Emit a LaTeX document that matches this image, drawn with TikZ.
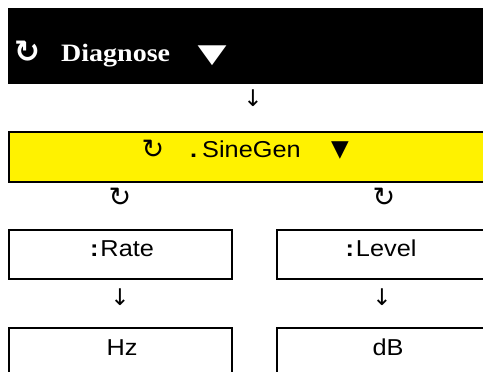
\documentclass[tikz,border=0pt]{standalone}
\usepackage{fontspec}
\setmainfont{Liberation Sans}
\newfontfamily\sfs[FakeStretch=1.1]{Liberation Sans}
\newfontfamily\sfb[FakeStretch=1.1]{Liberation Sans Bold}
\newfontfamily\srf[FakeStretch=1.12]{Liberation Serif}
\newfontfamily\sym{DejaVu Sans}
\newfontfamily\symb{DejaVu Sans Bold}
\begin{document}
\begin{tikzpicture}[x=1pt,y=-1pt,
  box/.style={draw=black, line width=1.6pt, anchor=north west, inner sep=0pt,
              minimum width=223pt, minimum height=49pt},
  txt/.style={anchor=base, inner sep=0pt, font=\sfs\fontsize{23}{27}\selectfont},
  glyph/.style={anchor=base, inner sep=0pt, font=\sym\fontsize{27}{31}\selectfont},
  arrowg/.style={anchor=base, inner sep=0pt, font=\sym\fontsize{23}{27}\selectfont}]
\useasboundingbox (0,0) rectangle (483,372);
\clip (0,0) rectangle (483,372);
% header
\node[fill=black, anchor=north west, inner sep=0pt, minimum width=480pt, minimum height=76pt] (diag) at (8,8) {};
\node[anchor=base, inner sep=0pt, text=white, font=\symb\fontsize{31}{35}\selectfont] (diagIcon) at (27,62) {↻};
\node[anchor=base west, inner sep=0pt, text=white, font=\srf\bfseries\fontsize{25}{29}\selectfont] (diagT) at (61,61) {Diagnose};
\node[anchor=base, inner sep=0pt, text=white, font=\sym\fontsize{26}{30}\selectfont] (diagTri) at (212,62) {\scalebox{1.45}[1]{▼}};
\node[arrowg] (a1) at (253,106) {↓};
% SineGen
\node[draw=black, fill=yellow, line width=1.6pt, anchor=north west, inner sep=0pt,
      minimum width=482pt, minimum height=50pt] (sine) at (8,131) {};
\node[glyph] (sineIcon) at (153,158) {↻};
\node[txt, anchor=base west] (sineT) at (190,157) {{\sfb.}\hspace{5pt}SineGen};
\node[anchor=base, inner sep=0pt, font=\sym\fontsize{23}{27}\selectfont] (sineTri) at (340,156) {▼};
% rotation icons
\node[glyph] (rotL) at (120,206) {↻};
\node[glyph] (rotR) at (384,206) {↻};
% parameter boxes
\node[box] (rate) at (8,229) {};
\node[box, minimum width=214pt] (level) at (276,229) {};
\node[txt] (rateT) at (122,256) {{\sfb:}\hspace{2pt}Rate};
\node[txt] (levelT) at (381,256) {{\sfb:}\hspace{2pt}Level};
% arrows
\node[arrowg] (a2) at (120,305) {↓};
\node[arrowg] (a3) at (382,305) {↓};
% unit boxes
\node[box] (hz) at (8,327) {};
\node[box, minimum width=214pt] (db) at (276,327) {};
\node[txt] (hzT) at (122,355) {Hz};
\node[txt] (dbT) at (388,355) {dB};
\end{tikzpicture}
\end{document}
